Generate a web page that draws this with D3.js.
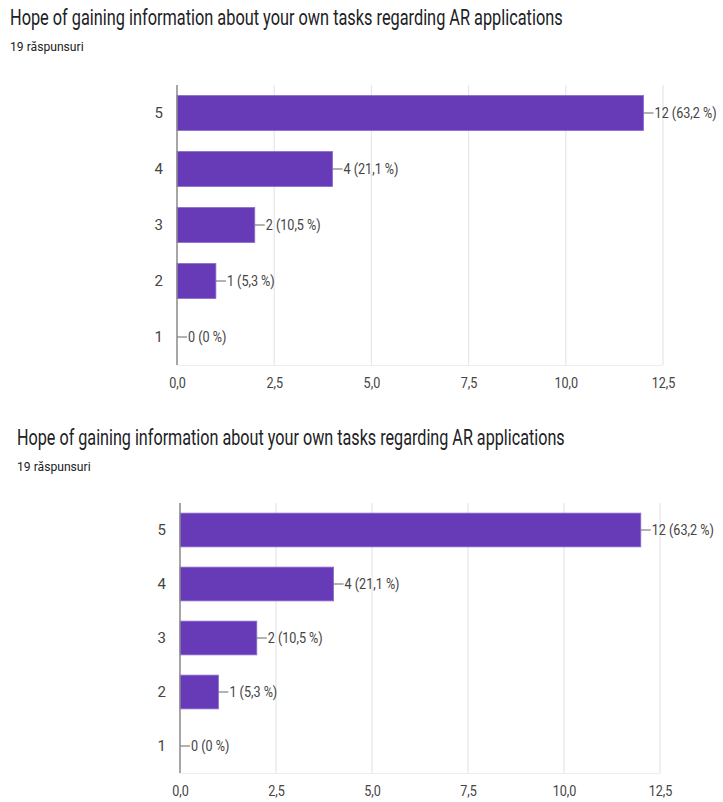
<!DOCTYPE html>
<html>
<head>
<meta charset="utf-8">
<script src="https://cdn.jsdelivr.net/npm/d3@7"></script>
<style>
  body { margin: 0; background: #fff; }
  svg text { font-family: Roboto, "Liberation Sans", sans-serif; }
</style>
</head>
<body>
<svg id="chart"></svg>
<script>
// data
let titleText = 'Hope of gaining information about your own tasks regarding AR applications';
let subtitleText = '19 răspunsuri';
let categories = ['5', '4', '3', '2', '1'];
let counts = [12, 4, 2, 1, 0];
let percents = ['63,2', '21,1', '10,5', '5,3', '0'];
let xTicks = [0, 2.5, 5, 7.5, 10, 12.5];

let width = 723;
let height = 802;

// the picture holds the same chart twice, slightly shifted
let panels = [
    { titleX: 10, titleY: 25, titleLen: 553, subY: 51, left: 177, right: 663, top: 85, bottom: 365, tickY: 388 },
    { titleX: 17, titleY: 445, titleLen: 548, subY: 471, left: 180, right: 660, top: 503, bottom: 773, tickY: 796 }
];

let svg = d3.select('#chart')
    .attr('width', width)
    .attr('height', height);

let fmt = d3.formatLocale({ decimal: ',', thousands: '.', grouping: [3], currency: ['', ''] }).format('.1f');

// squeeze text horizontally, the source looks condensed
const squeeze = 0.9;

const drawPanel = (p) => {
    let g = svg.append('g');

    let xScale = d3.scaleLinear()
        .domain([0, 12.5])
        .range([p.left, p.right]);

    let yScale = d3.scaleBand()
        .domain(categories)
        .range([p.top, p.bottom])
        .paddingInner(0.375)
        .paddingOuter(0.1875);

    let title = g.append('text')
        .style('font-size', '22px')
        .style('fill', '#202124')
        .text(titleText);
    let natural = title.node().getComputedTextLength();
    title.attr('transform', `translate(${p.titleX}, ${p.titleY}) scale(${p.titleLen / natural}, 1)`);

    g.append('text')
        .attr('transform', `translate(${p.titleX}, ${p.subY}) scale(${squeeze}, 1)`)
        .style('font-size', '13.5px')
        .style('fill', '#202124')
        .text(subtitleText);

    // grid
    g.selectAll('.grid')
        .data(xTicks.slice(1))
        .enter()
        .append('line')
        .attr('x1', d => xScale(d))
        .attr('x2', d => xScale(d))
        .attr('y1', p.top)
        .attr('y2', p.bottom)
        .attr('stroke', '#e6e6e6')
        .attr('stroke-width', 1.2);

    g.append('line')
        .attr('x1', p.left)
        .attr('x2', p.right)
        .attr('y1', p.bottom + 0.5)
        .attr('y2', p.bottom + 0.5)
        .attr('stroke', '#eeeeee');

    let xAxis = d3.axisBottom(xScale)
        .tickValues(xTicks)
        .tickSize(0)
        .tickFormat(fmt);

    let xg = g.append('g')
        .attr('transform', `translate(0, ${p.tickY - 13})`)
        .call(xAxis);
    xg.select('.domain').remove();
    xg.selectAll('text')
        .style('font-size', '14px')
        .style('fill', '#444')
        .attr('font-family', null)
        .attr('transform', `scale(${squeeze}, 1)`);

    let yAxis = d3.axisLeft(yScale).tickSize(0).tickPadding(14);
    let yg = g.append('g')
        .attr('transform', `translate(${p.left}, 0)`)
        .call(yAxis);
    yg.select('.domain').remove();
    yg.selectAll('text')
        .style('font-size', '15px')
        .style('fill', '#444')
        .attr('font-family', null);

    // bars
    g.selectAll('.bar')
        .data(counts)
        .enter()
        .append('rect')
        .attr('x', xScale(0))
        .attr('y', (d, i) => yScale(categories[i]))
        .attr('width', d => xScale(d) - xScale(0))
        .attr('height', yScale.bandwidth())
        .attr('fill', '#673ab7')
        .attr('stroke', '#8b6cd0')
        .attr('stroke-width', d => d > 0 ? 0.8 : 0);

    // value labels with leader line
    g.selectAll('.lead')
        .data(counts)
        .enter()
        .append('line')
        .attr('x1', d => xScale(d))
        .attr('x2', d => xScale(d) + 10)
        .attr('y1', (d, i) => yScale(categories[i]) + yScale.bandwidth() / 2)
        .attr('y2', (d, i) => yScale(categories[i]) + yScale.bandwidth() / 2)
        .attr('stroke', '#666')
        .attr('stroke-width', 1);

    g.selectAll('.val')
        .data(counts)
        .enter()
        .append('text')
        .attr('transform', (d, i) => `translate(${xScale(d) + 11}, ${yScale(categories[i]) + yScale.bandwidth() / 2}) scale(${squeeze}, 1)`)
        .attr('dy', '0.35em')
        .style('font-size', '14px')
        .style('fill', '#444')
        .text((d, i) => `${d} (${percents[i]} %)`);

    // zero line
    g.append('line')
        .attr('x1', p.left)
        .attr('x2', p.left)
        .attr('y1', p.top)
        .attr('y2', p.bottom)
        .attr('stroke', '#888')
        .attr('stroke-width', 1.5);
};

panels.forEach(drawPanel);
</script>
</body>
</html>
